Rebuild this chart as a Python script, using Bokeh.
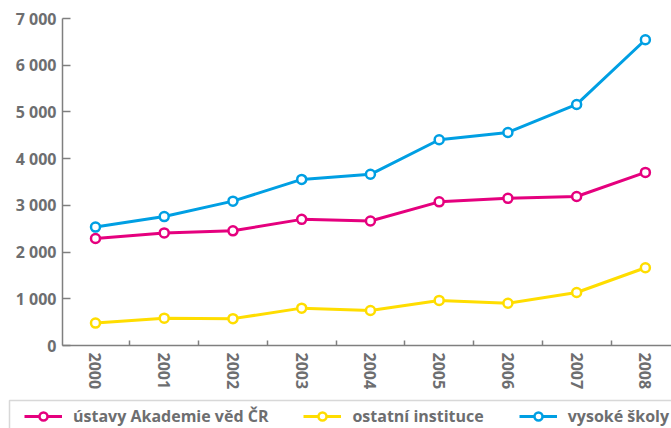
from bokeh.plotting import figure
from bokeh.models import (Range1d, FixedTicker, Legend, LegendItem, BoxAnnotation,
                          ColumnDataSource)
from bokeh.layouts import column
from bokeh.embed import file_html
from bokeh.resources import INLINE

# ---- data ----
years = [2000, 2001, 2002, 2003, 2004, 2005, 2006, 2007, 2008]
year_labels = ["2000", "2001", "2002", "2003", "2004", "2005", "2006", "2007", "2008"]
ustavy_av = [2290, 2410, 2455, 2700, 2665, 3075, 3150, 3190, 3705]
ostatni = [480, 585, 575, 800, 750, 965, 905, 1135, 1665]
vysoke_skoly = [2535, 2760, 3090, 3555, 3665, 4405, 4560, 5160, 6545]
y_ticks = [0, 1000, 2000, 3000, 4000, 5000, 6000, 7000]
y_tick_labels = ["0", "1 000", "2 000", "3 000", "4 000", "5 000", "6 000", "7 000"]
series_names = ["ústavy Akademie věd ČR", "ostatní instituce", "vysoké školy"]
series_values = [ustavy_av, ostatni, vysoke_skoly]
colors = ["#E5007E", "#FFDD00", "#009FE3"]

AXIS = "#7f7f7f"
TEXT = "#6d6e70"
FONT = "Open Sans"

p = figure(width=671, height=392, output_backend="svg", toolbar_location=None,
           x_range=Range1d(1999.52, 2008.38), y_range=Range1d(0, 7000),
           min_border_left=62, min_border_right=0, min_border_top=18,
           min_border_bottom=47)
p.frame_align = False
p.outline_line_color = None
p.grid.visible = False
p.background_fill_color = "white"

for vals, color in zip(series_values, colors):
    p.line(years, vals, line_color=color, line_width=3)
    p.scatter(years, vals, size=9, fill_color="white", line_color=color, line_width=2.5)

# y axis
ya = p.yaxis[0]
ya.ticker = FixedTicker(ticks=y_ticks)
ya.major_label_overrides = {t: l for t, l in zip(y_ticks, y_tick_labels)}
ya.axis_line_color = AXIS
ya.axis_line_width = 1.5
ya.major_tick_in = 8
ya.major_tick_out = 0
ya.major_tick_line_color = AXIS
ya.major_tick_line_width = 1.5
ya.minor_tick_line_color = None
ya.major_label_standoff = 6
ya.major_label_text_font = FONT
ya.major_label_text_font_style = "bold"
ya.major_label_text_font_size = "16px"
ya.major_label_text_color = TEXT

# x axis
xa = p.xaxis[0]
xa.ticker = FixedTicker(ticks=years, minor_ticks=[y + 0.5 for y in years[:-1]])
xa.major_label_overrides = {t: l for t, l in zip(years, year_labels)}
xa.major_label_orientation = "vertical"
xa.axis_line_color = AXIS
xa.axis_line_width = 1.5
xa.major_tick_in = 0
xa.major_tick_out = 0
xa.minor_tick_in = 5
xa.minor_tick_out = 0
xa.minor_tick_line_color = AXIS
xa.minor_tick_line_width = 1.5
xa.major_label_standoff = 7
xa.major_label_text_font = FONT
xa.major_label_text_font_style = "bold"
xa.major_label_text_font_size = "16px"
xa.major_label_text_color = TEXT

# ---- legend strip ----
leg = figure(width=671, height=36, output_backend="svg", toolbar_location=None,
             x_range=Range1d(0, 671), y_range=Range1d(0, 36),
             x_axis_type=None, y_axis_type=None,
             min_border_left=0, min_border_right=0, min_border_top=0,
             min_border_bottom=0)
leg.frame_align = False
leg.outline_line_color = None
leg.grid.visible = False
leg.add_layout(BoxAnnotation(left=9, right=2000, top=28, bottom=-100,
                             fill_alpha=0, line_color=AXIS, line_width=1.5))

items = []
for name, vals, color in zip(series_names, series_values, colors):
    # proxy renderers (data lies outside this strip's ranges, only the legend glyph shows)
    src = ColumnDataSource(dict(x=years, y=vals))
    lr = leg.line("x", "y", source=src, line_color=color, line_width=3)
    sr = leg.scatter("x", "y", source=src, size=9, fill_color="white",
                     line_color=color, line_width=2.5)
    items.append(LegendItem(label=name, renderers=[lr, sr]))

legend = Legend(items=items, orientation="horizontal", location=(24, 1),
                glyph_width=38, glyph_height=20, label_height=20,
                label_standoff=11, spacing=35, padding=0, margin=0,
                border_line_alpha=0, background_fill_alpha=0,
                label_text_font=FONT, label_text_font_style="bold",
                label_text_font_size="16px", label_text_color=TEXT)
leg.add_layout(legend)

layout = column(p, leg, spacing=0)
open("out.html", "w").write(file_html(layout, INLINE))
